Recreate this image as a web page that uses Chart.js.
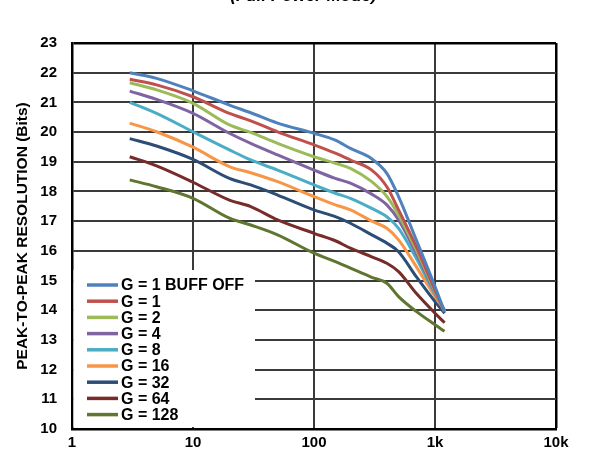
<!DOCTYPE html>
<html><head><meta charset="utf-8">
<script src="https://cdn.jsdelivr.net/npm/chart.js@4"></script>
<style>html,body{margin:0;padding:0;background:#fff;overflow:hidden}#wrap{position:relative;width:607px;height:453px}</style>
</head><body><div id="wrap"><canvas id="c" width="607" height="453"></canvas></div>
<script>
const chartTitle = "(Full Power Mode)";
const yAxisTitle = "PEAK-TO-PEAK RESOLUTION (Bits)";
const outputDataRates = [3, 5, 10, 20, 30, 50, 100, 150, 200, 300, 400, 500, 700, 1000, 1200];
const xTickValues = [1, 10, 100, 1000, 10000];
const xTickLabels = ["1", "10", "100", "1k", "10k"];
const seriesNames = ["G = 1 BUFF OFF", "G = 1", "G = 2", "G = 4", "G = 8", "G = 16", "G = 32", "G = 64", "G = 128"];
const g1BuffOff = [22.0, 21.81, 21.39, 20.91, 20.65, 20.30, 19.96, 19.73, 19.45, 19.10, 18.61, 17.83, 16.37, 14.80, 13.95];
const g1 =        [21.78, 21.59, 21.19, 20.63, 20.38, 20.01, 19.57, 19.29, 19.06, 18.72, 18.16, 17.38, 16.14, 14.68, 13.95];
const g2 =        [21.66, 21.42, 20.97, 20.24, 19.99, 19.62, 19.17, 18.95, 18.78, 18.33, 17.83, 17.21, 16.03, 14.63, 13.95];
const g4 =        [21.38, 21.10, 20.63, 19.96, 19.62, 19.23, 18.72, 18.44, 18.28, 17.91, 17.55, 17.04, 15.92, 14.60, 13.95];
const g8 =        [21.0, 20.63, 20.01, 19.40, 19.06, 18.72, 18.22, 17.94, 17.77, 17.43, 17.15, 16.76, 15.75, 14.55, 14.0];
const g16 =       [20.30, 20.01, 19.49, 18.84, 18.63, 18.33, 17.83, 17.55, 17.38, 17.00, 16.76, 16.37, 15.47, 14.46, 14.0];
const g32 =       [19.78, 19.53, 19.08, 18.44, 18.22, 17.88, 17.38, 17.15, 16.93, 16.54, 16.26, 15.97, 15.13, 14.29, 13.9];
const g64 =       [19.17, 18.86, 18.31, 17.71, 17.49, 17.04, 16.59, 16.34, 16.09, 15.80, 15.58, 15.30, 14.57, 13.90, 13.58];
const g128 =      [18.39, 18.16, 17.77, 17.10, 16.87, 16.54, 15.92, 15.64, 15.42, 15.11, 14.91, 14.46, 13.96, 13.51, 13.29];
const seriesValues = [g1BuffOff, g1, g2, g4, g8, g16, g32, g64, g128];
const seriesColors = ["#4F81BD", "#C0504D", "#9BBB59", "#8064A2", "#4BACC6", "#F79646", "#2C4D75", "#772C2A", "#5F7530"];

const FONT = "'Liberation Sans', Arial, sans-serif";

const datasets = seriesNames.map((name, i) => ({
  label: name,
  data: outputDataRates.map((x, j) => ({ x: x, y: seriesValues[i][j] })),
  borderColor: seriesColors[i],
  backgroundColor: seriesColors[i],
  borderWidth: 3,
  pointRadius: 0,
  tension: 0,
  cubicInterpolationMode: 'monotone',
  fill: false
}));

const overlayPlugin = {
  id: 'overlay',
  beforeDatasetsDraw(chart) {
    const c = chart.ctx;
    const a = chart.chartArea;
    c.save();
    c.fillStyle = '#fff';
    c.fillRect(a.left + 1.5, 270, 255 - (a.left + 1.5), 157);
    c.restore();
  },
  afterDraw(chart) {
    const c = chart.ctx;
    c.save();
    c.fillStyle = '#000';
    c.font = "italic bold 17px " + FONT;
    c.textAlign = 'center';
    c.textBaseline = 'alphabetic';
    c.fillText(chartTitle, 303.5, 0.5);
    c.font = "bold 16px " + FONT;
    c.textAlign = 'left';
    c.textBaseline = 'middle';
    chart.data.datasets.forEach((ds, i) => {
      const y = 285 + i * 16.2;
      c.strokeStyle = ds.borderColor;
      c.lineWidth = 3.5;
      c.beginPath();
      c.moveTo(87, y);
      c.lineTo(118, y);
      c.stroke();
      c.fillStyle = '#000';
      c.fillText(ds.label, 121, y + 1);
    });
    c.restore();
  }
};

const gridColor = (ctx, edgeVal) => (ctx.tick && ctx.tick.value === edgeVal) ? '#000' : '#3a3a3a';
const gridWidth = (ctx, edgeVal) => (ctx.tick && ctx.tick.value === edgeVal) ? 2.5 : 2;

new Chart(document.getElementById('c'), {
  type: 'line',
  data: { datasets: datasets },
  plugins: [overlayPlugin],
  options: {
    responsive: false,
    animation: false,
    devicePixelRatio: 1,
    layout: { padding: { top: 43, right: 51, left: 0, bottom: 0 } },
    plugins: { legend: { display: false }, tooltip: { enabled: false }, title: { display: false } },
    scales: {
      x: {
        type: 'logarithmic',
        min: 1, max: 10000,
        afterBuildTicks: (s) => { s.ticks = xTickValues.map(v => ({ value: v })); },
        afterFit: (s) => { s.height = 21; },
        ticks: {
          autoSkip: false, maxRotation: 0, minRotation: 0,
          padding: 5, color: '#000',
          font: { family: FONT, size: 15, weight: 'bold' },
          callback: (v, i) => xTickLabels[i]
        },
        grid: { drawTicks: false, color: (ctx) => gridColor(ctx, 10000), lineWidth: (ctx) => gridWidth(ctx, 10000) },
        border: { display: true, color: '#000', width: 2.5 }
      },
      y: {
        type: 'linear',
        min: 10, max: 23,
        afterFit: (s) => { s.width = 72; },
        ticks: {
          stepSize: 1, padding: 15, color: '#000',
          font: { family: FONT, size: 15, weight: 'bold' }
        },
        grid: { drawTicks: false, color: (ctx) => gridColor(ctx, 23), lineWidth: (ctx) => gridWidth(ctx, 23) },
        border: { display: true, color: '#000', width: 2.5 },
        title: {
          display: true, text: yAxisTitle, color: '#000',
          font: { family: FONT, size: 15.5, weight: 'bold' },
          padding: { top: 13, bottom: 0 }
        }
      }
    }
  }
});
</script>
</body></html>
